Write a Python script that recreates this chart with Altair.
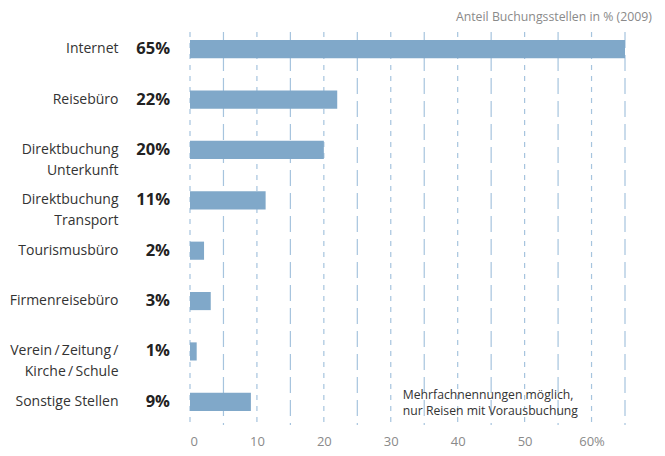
import altair as alt
import pandas as pd

categories = ["Internet", "Reisebüro", "Direktbuchung\nUnterkunft", "Direktbuchung\nTransport",
              "Tourismusbüro", "Firmenreisebüro", "Verein\u2009/\u2009Zeitung\u2009/\nKirche\u2009/\u2009Schule",
              "Sonstige Stellen"]
values = [65, 22, 20, 11.3, 2.1, 3.1, 1.0, 9.1]
labels = ["65%", "22%", "20%", "11%", "2%", "3%", "1%", "9%"]
major_grid = [0, 10, 20, 30, 40, 50, 60]
minor_grid = [5, 15, 25, 35, 45, 55, 65]
tick_values = [0, 10, 20, 30, 40, 50, 60]
title_text = "Anteil Buchungsstellen in % (2009)"
note_text = "Mehrfachnennungen möglich,\nnur Reisen mit Vorausbuchung"

FONT = "Open Sans"
df = pd.DataFrame({"cat": categories, "value": values, "label": labels})
gmaj = pd.DataFrame({"g": major_grid})
gmin = pd.DataFrame({"g": minor_grid})

xscale = alt.Scale(domain=[0, 65], nice=False, zero=True)
yscale = alt.Scale(domain=categories, paddingInner=0.64, paddingOuter=0.32)

xaxis = alt.Axis(values=tick_values, grid=False, domain=False, ticks=False,
                 labelExpr="datum.value == 60 ? '60%' : datum.label",
                 labelColor="#8a8a8a", labelFontSize=13, labelFont=FONT,
                 labelPadding=8, title=None)
yaxis = alt.Axis(domain=False, ticks=False, grid=False, title=None,
                 labelExpr="split(datum.label, '\\n')",
                 labelFont=FONT, labelFontSize=14, labelColor="#333333",
                 labelLineHeight=21, labelPadding=72)

grid_color = "#a6c4de"
major = alt.Chart(gmaj).mark_rule(color=grid_color, strokeWidth=1.2, strokeDash=[5, 6]).encode(
    x=alt.X("g:Q", scale=xscale, axis=xaxis), y=alt.value(8), y2=alt.value(401))
minor = alt.Chart(gmin).mark_rule(color=grid_color, strokeWidth=1.2, strokeDash=[16, 7]).encode(
    x=alt.X("g:Q", scale=xscale, axis=xaxis), y=alt.value(8), y2=alt.value(401))

bars = alt.Chart(df).mark_bar(color="#80a8c9").encode(
    x=alt.X("value:Q", scale=xscale, axis=xaxis),
    y=alt.Y("cat:N", scale=yscale, sort=categories, axis=yaxis),
)

pct = alt.Chart(df).mark_text(align="right", baseline="middle", font=FONT, fontSize=16.5,
                              fontWeight="bold", color="#222222").encode(
    x=alt.value(-20), y=alt.Y("cat:N", scale=yscale, sort=categories, axis=yaxis), text="label:N")

title = alt.Chart(pd.DataFrame({"t": [title_text]})).mark_text(
    align="right", baseline="middle", font=FONT, fontSize=12.3, color="#8a8a8a").encode(
    x=alt.value(462), y=alt.value(-7), text="t:N")

note = alt.Chart(pd.DataFrame({"t": [note_text], "x": [31.8]})).mark_text(
    align="left", baseline="middle", font=FONT, fontSize=12.2, color="#333333",
    lineBreak="\n", lineHeight=16).encode(
    x=alt.X("x:Q", scale=xscale, axis=xaxis), y=alt.value(371), text="t:N")

chart = alt.layer(major, minor, bars, pct, title, note).properties(
    width=435, height=403,
    autosize=alt.AutoSizeParams(type="none"),
    padding={"left": 182, "top": 16, "right": 32, "bottom": 21},
).configure(background="white").configure_view(stroke=None)

chart.save("out.html", embed_options={"renderer": "svg", "actions": False})
